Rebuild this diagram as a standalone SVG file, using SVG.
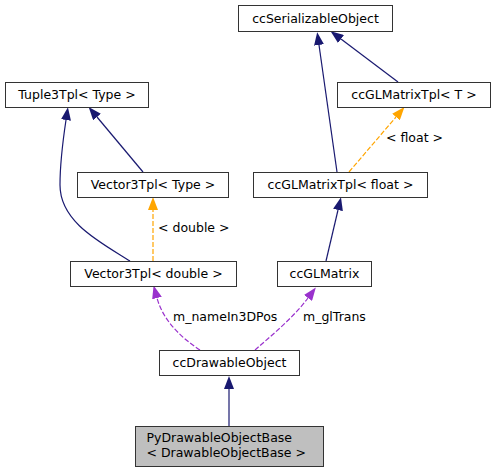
<svg xmlns="http://www.w3.org/2000/svg" width="497" height="472" viewBox="0 0 497 472">
<style>
.n rect{fill:#fff;stroke:#333;stroke-width:1}
.n text,.lbl{font-family:"DejaVu Sans",sans-serif;font-size:12.5px;fill:#000}
.n text{text-anchor:middle}
.root rect{fill:#bfbfbf}
.e{fill:none;stroke-width:1.2}
.inh{stroke:#191970}
.tpl{stroke:#ffa500;stroke-dasharray:5,2}
.use{stroke:#9a32cd;stroke-dasharray:5,2}
</style>
<defs>
<marker id="aN" viewBox="0 0 13 10" refX="0" refY="5" markerWidth="13" markerHeight="10" markerUnits="userSpaceOnUse" orient="auto"><path d="M0,0L13,5L0,10z" fill="#191970"/></marker>
<marker id="aO" viewBox="0 0 13 10" refX="0" refY="5" markerWidth="13" markerHeight="10" markerUnits="userSpaceOnUse" orient="auto"><path d="M0,0L13,5L0,10z" fill="#ffa500"/></marker>
<marker id="aP" viewBox="0 0 13 10" refX="0" refY="5" markerWidth="13" markerHeight="10" markerUnits="userSpaceOnUse" orient="auto"><path d="M0,0L13,5L0,10z" fill="#9a32cd"/></marker>
</defs>
<rect width="497" height="472" fill="#fff"/>
<g id="edges">
<path class="e inh" d="M229,426L229,389" marker-end="url(#aN)"/>
<path class="e use" d="M255,350C272,335 293,318 308,298" marker-end="url(#aP)"/>
<text class="lbl" x="303" y="321">m_glTrans</text>
<path class="e use" d="M200,350C180,337 163,320 157,298" marker-end="url(#aP)"/>
<text class="lbl" x="173" y="321">m_nameIn3DPos</text>
<path class="e tpl" d="M153,261L153,210" marker-end="url(#aO)"/>
<text class="lbl" x="158" y="232">&lt; double &gt;</text>
<path class="e inh" d="M143,172L97,117" marker-end="url(#aN)"/>
<path class="e inh" d="M130,261C100,242 60,222 60,185C60,160 63,140 66,120" marker-end="url(#aN)"/>
<path class="e inh" d="M337,172L319,45" marker-end="url(#aN)"/>
<path class="e inh" d="M398,82L341,39" marker-end="url(#aN)"/>
<path class="e tpl" d="M349,172L396,117" marker-end="url(#aO)"/>
<text class="lbl" x="386" y="142">&lt; float &gt;</text>
<path class="e inh" d="M326,261L338,210" marker-end="url(#aN)"/>
</g>
<g id="ccSerializableObject" class="n"><rect x="238.5" y="5.5" width="154" height="26"/><text x="315.5" y="23">ccSerializableObject</text></g>
<g id="Tuple3Tpl" class="n"><rect x="5.5" y="82.5" width="143" height="25"/><text x="77" y="99">Tuple3Tpl&lt; Type &gt;</text></g>
<g id="ccGLMatrixTpl_T" class="n"><rect x="337.5" y="82.5" width="153" height="25"/><text x="414" y="99">ccGLMatrixTpl&lt; T &gt;</text></g>
<g id="Vector3Tpl_Type" class="n"><rect x="77.5" y="172.5" width="151" height="25"/><text x="153" y="189">Vector3Tpl&lt; Type &gt;</text></g>
<g id="ccGLMatrixTpl_float" class="n"><rect x="253.5" y="172.5" width="174" height="25"/><text x="340.5" y="189">ccGLMatrixTpl&lt; float &gt;</text></g>
<g id="Vector3Tpl_double" class="n"><rect x="70.5" y="261.5" width="166" height="25"/><text x="153.5" y="278">Vector3Tpl&lt; double &gt;</text></g>
<g id="ccGLMatrix" class="n"><rect x="277.5" y="261.5" width="94" height="25"/><text x="324.5" y="278">ccGLMatrix</text></g>
<g id="ccDrawableObject" class="n"><rect x="159.5" y="350.5" width="140" height="25"/><text x="229.5" y="367">ccDrawableObject</text></g>
<g id="PyDrawableObjectBase" class="n root"><rect x="135.5" y="426.5" width="188" height="40"/><text x="146.5" y="442" style="text-anchor:start">PyDrawableObjectBase</text><text x="146.5" y="457" style="text-anchor:start">&lt; DrawableObjectBase &gt;</text></g>
</svg>
